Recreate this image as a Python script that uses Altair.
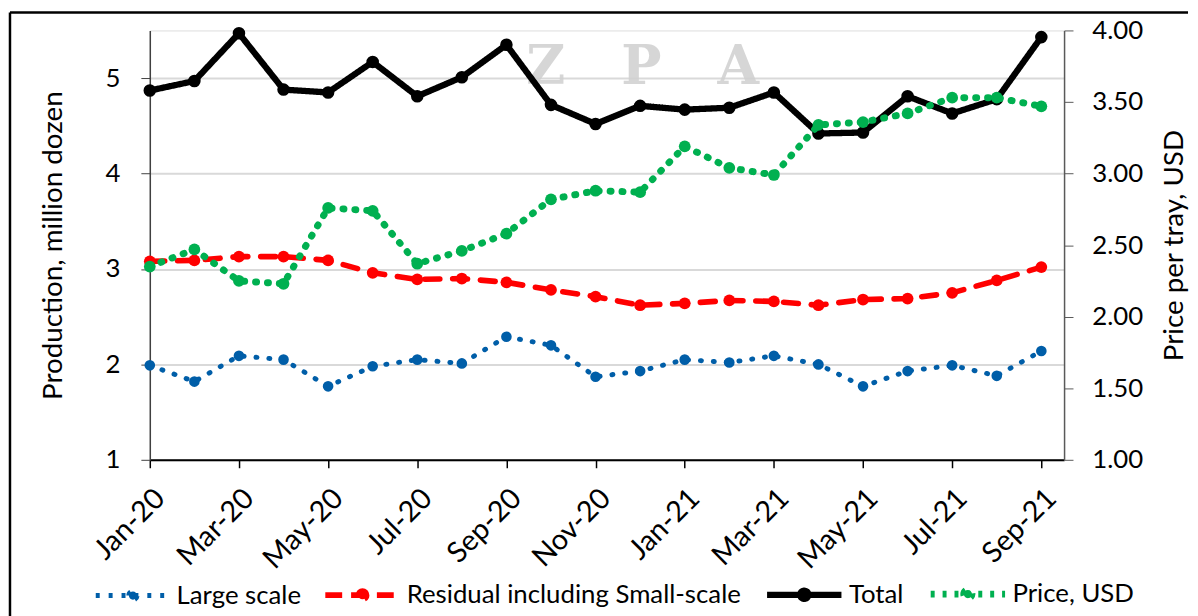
import altair as alt
import pandas as pd

months = ["Jan-20", "Feb-20", "Mar-20", "Apr-20", "May-20", "Jun-20", "Jul-20",
          "Aug-20", "Sep-20", "Oct-20", "Nov-20", "Dec-20", "Jan-21", "Feb-21",
          "Mar-21", "Apr-21", "May-21", "Jun-21", "Jul-21", "Aug-21", "Sep-21"]
large_scale = [1.99, 1.82, 2.09, 2.05, 1.77, 1.98, 2.05, 2.01, 2.29, 2.20, 1.87,
               1.93, 2.05, 2.02, 2.09, 2.00, 1.77, 1.93, 1.99, 1.88, 2.14]
residual = [3.08, 3.09, 3.13, 3.13, 3.09, 2.96, 2.89, 2.90, 2.86, 2.78, 2.71,
            2.62, 2.64, 2.67, 2.66, 2.62, 2.68, 2.69, 2.75, 2.88, 3.02]
total = [4.87, 4.97, 5.47, 4.88, 4.85, 5.17, 4.81, 5.01, 5.35, 4.72, 4.52,
         4.71, 4.67, 4.69, 4.85, 4.42, 4.43, 4.81, 4.63, 4.78, 5.43]
price = [2.35, 2.47, 2.25, 2.23, 2.76, 2.74, 2.37, 2.46, 2.58, 2.82, 2.88,
         2.87, 3.19, 3.04, 2.99, 3.34, 3.36, 3.42, 3.53, 3.53, 3.47]

series_names = ["Large scale", "Residual including Small-scale", "Total", "Price, USD"]
series_colors = ["#005EA8", "#FF0000", "#000000", "#00B050"]
series_dash = [[1, 12], [15, 13], [1, 0], [1, 11]]
legend_dash = [[4, 9], [17, 9], [1, 0], [4, 8]]
series_width = [5, 7, 6, 4.5]
point_sizes = [115, 140, 160, 140]
left_ticks = [1, 2, 3, 4, 5]
right_ticks = [1.0, 1.5, 2.0, 2.5, 3.0, 3.5, 4.0]

rows = []
for name, vals in zip(series_names, [large_scale, residual, total, price]):
    for i, (m, v) in enumerate(zip(months, vals)):
        rows.append({"idx": i, "month": m, "series": name, "value": v})
df = pd.DataFrame(rows)

FONT = "Lato"
LABEL_FS = 26
XLABEL_FS = 29
TITLE_FS = 28
LEGEND_FS = 26
month_js = "[" + ",".join("'%s'" % m for m in months) + "]"

x_enc = alt.X("idx:Q",
              scale=alt.Scale(domain=[0, 20.51], nice=False, zero=False),
              axis=alt.Axis(values=list(range(0, 21, 2)), labelExpr=month_js + "[datum.value]",
                            labelAngle=315, title=None,
                            labelFontSize=XLABEL_FS, labelColor="#000000",
                            domainColor="#000000", domainWidth=2,
                            tickColor="#000000", tickSize=8, tickWidth=1.5,
                            labelPadding=16, grid=False, labelFlush=False,
                            labelOverlap=False))

left_y = alt.Y("value:Q", scale=alt.Scale(domain=[1, 5.5], nice=False, zero=False),
               axis=alt.Axis(values=left_ticks, title="Production, million dozen",
                             titleFontSize=TITLE_FS, titleFontWeight="normal", titleColor="#000000",
                             titlePadding=38,
                             labelFontSize=LABEL_FS, labelColor="#000000", labelPadding=21,
                             domainColor="#404040", domainWidth=1.5,
                             tickColor="#404040", tickSize=9,
                             grid=True, gridColor="#D9D9D9", gridWidth=2))
right_y = alt.Y("value:Q", scale=alt.Scale(domain=[1, 4], nice=False, zero=False),
                axis=alt.Axis(orient="right", values=right_ticks, format=".2f",
                              title="Price per tray, USD", titleAngle=270, titleBaseline="top",
                              titleFontSize=TITLE_FS, titleFontWeight="normal", titleColor="#000000",
                              titlePadding=18,
                              labelFontSize=LABEL_FS, labelColor="#000000", labelPadding=19,
                              domainColor="#595959", domainWidth=1.5,
                              tickColor="#595959", tickSize=9, grid=False))


def series_layer(i, y_enc):
    return alt.Chart(df).transform_filter(
        alt.datum.series == series_names[i]
    ).mark_line(
        strokeCap="round", strokeJoin="round",
        point=alt.OverlayMarkDef(filled=True, size=point_sizes[i], opacity=1, strokeWidth=0)
    ).encode(
        x=x_enc, y=y_enc,
        color=alt.Color("series:N", scale=alt.Scale(domain=series_names, range=series_colors),
                        legend=None),
        strokeDash=alt.StrokeDash("series:N", scale=alt.Scale(domain=series_names, range=series_dash),
                                  legend=None),
        strokeWidth=alt.StrokeWidth("series:N", scale=alt.Scale(domain=series_names, range=series_width),
                                    legend=None),
    )


left_layer = alt.layer(series_layer(0, left_y), series_layer(1, left_y), series_layer(2, left_y))
price_layer = series_layer(3, right_y)

# legend carrier: no visible marks, only supplies the combined legend
legend_symbol = ("M-1,0H1M-0.11,0A0.11,0.11,0,1,1,0.11,0"
                 "A0.11,0.11,0,1,1,-0.11,0Z")
leg = alt.Legend(orient="none", direction="horizontal", legendX=-57, legendY=527,
                 symbolSize=5625, symbolOpacity=1,
                 labelFontSize=LEGEND_FS, labelColor="#000000", columnPadding=12,
                 labelOffset=4, labelLimit=500)
legend_layer = alt.Chart(df).transform_filter(alt.datum.idx < 0).mark_point(
    filled=True
).encode(
    x=x_enc,
    y=alt.Y("value:Q", axis=None, scale=alt.Scale(domain=[1, 5.5])),
    color=alt.Color("series:N", scale=alt.Scale(domain=series_names, range=series_colors),
                    title=None, legend=leg),
    stroke=alt.Stroke("series:N", scale=alt.Scale(domain=series_names, range=series_colors),
                      title=None, legend=leg),
    strokeDash=alt.StrokeDash("series:N", scale=alt.Scale(domain=series_names, range=legend_dash),
                              title=None, legend=leg),
    strokeWidth=alt.StrokeWidth("series:N", scale=alt.Scale(domain=series_names, range=series_width),
                                title=None, legend=leg),
    shape=alt.Shape("series:N", scale=alt.Scale(domain=series_names, range=[legend_symbol] * 4),
                    title=None, legend=leg),
)

frame_df = pd.DataFrame({"k": [0]})
border_left = alt.Chart(frame_df).mark_rule(color="#000000", strokeWidth=2.5).encode(
    x=alt.value(-141), y=alt.value(-18), y2=alt.value(600))
border_top = alt.Chart(frame_df).mark_rule(color="#000000", strokeWidth=2.5).encode(
    x=alt.value(-141), x2=alt.value(1047), y=alt.value(-18))

NB = "\u00a0"
watermark = alt.Chart(pd.DataFrame({"t": ["Z" + NB * 3 + "P" + NB * 3 + "A"]})).mark_text(
    font="DejaVu Serif", fontWeight="bold", fontSize=54, color="#D0D0D0",
    opacity=0.85, align="center", baseline="middle"
).encode(text="t:N", x=alt.value(497), y=alt.value(38))

chart = alt.layer(border_left, border_top, watermark, left_layer, price_layer,
                  legend_layer).resolve_scale(
    y="independent", color="independent", stroke="independent",
    strokeDash="independent", strokeWidth="independent", shape="independent"
).properties(
    width=922, height=433, padding=0, background="#FFFFFF"
).configure_view(stroke=None).configure(font=FONT)

chart.save("out.html", embed_options={"renderer": "svg", "actions": False})
